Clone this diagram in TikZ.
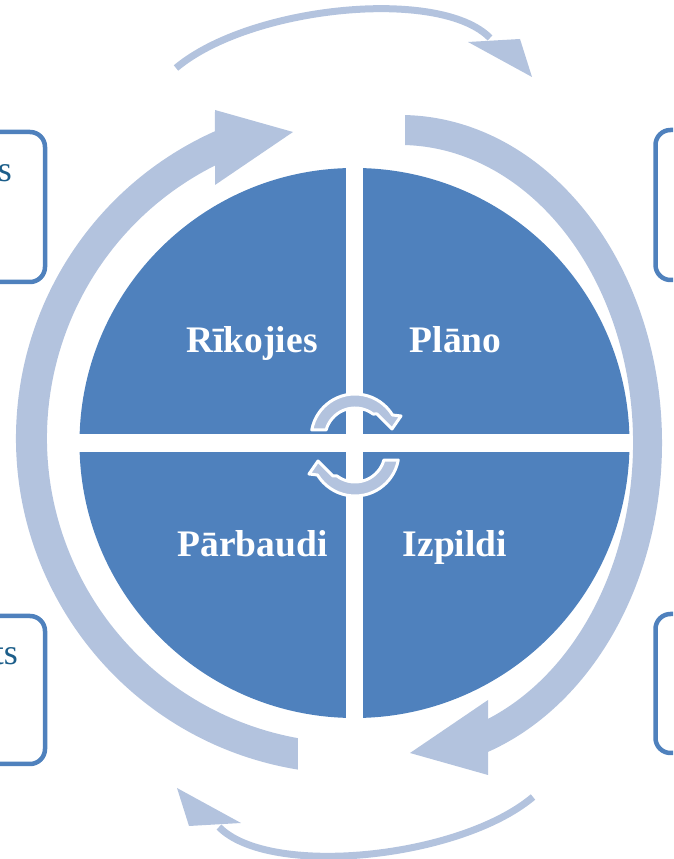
\documentclass[tikz,border=0pt]{standalone}
\usepackage{fontspec}
\setmainfont{Liberation Serif}
\usetikzlibrary{calc}
\definecolor{pieblue}{RGB}{79,129,189}
\definecolor{ringblue}{RGB}{179,195,222}
\definecolor{txtblue}{RGB}{28,94,138}
\begin{document}
\begin{tikzpicture}[x=1pt,y=1pt,
  sidebox/.style={draw=pieblue, line width=4.5, fill=white, rounded corners=15, inner sep=0},
  lbl/.style={text=white, font=\fontsize{37.5}{40}\selectfont\bfseries, inner sep=0, anchor=base},
  sidetxt/.style={text=txtblue, font=\fontsize{36}{40}\selectfont, inner sep=0, anchor=base east},
  ring/.style={fill=ringblue},
  minicirc/.style={fill=ringblue, draw=white, line width=3, line join=round}]
\useasboundingbox (0,0) rectangle (673,859);
\clip (0,0) rectangle (673,859);

% side boxes (cut by the page edge)
\node[sidebox, minimum width=85, minimum height=150] (boxTL) at (2.5,652) {};
\node[sidebox, minimum width=85, minimum height=148] (boxBL) at (2.5,169) {};
\node[sidebox, minimum width=65, minimum height=150] (boxTR) at (688,654) {};
\node[sidebox, minimum width=65, minimum height=139] (boxBR) at (688,175.5) {};
\node[sidetxt] (txtTL) at (12,677) {s};
\node[sidetxt] (txtBL) at (18,194) {ts};

% big ring arrows
\fill[ring] ($(352,421)+(260.75:336)$) arc[start angle=260.75, end angle=114.07, radius=336]
  -- (215,749) -- (293,727) -- (215,674)
  -- ($(352,421)+(116.69:305)$) arc[start angle=116.69, end angle=259.8, radius=305] -- cycle;
\fill[ring] (405,743.94) arc[start angle=88.91, end angle=-70.37, x radius=262, y radius=328]
  -- (488,84) -- (410,106) -- (488,159) -- (488,140.1)
  arc[start angle=-67.81, end angle=88.77, x radius=233, y radius=298] -- cycle;

% small curved arrows at top and bottom
\draw[ringblue, line width=7] (176,791) .. controls (250,853) and (440,872) .. (490,821);
\fill[ring] (468,817) -- (520,820) -- (532,782) -- cycle;
\begin{scope}[rotate around={180:(354.5,426.5)}]
\draw[ringblue, line width=7] (176,791) .. controls (250,853) and (440,872) .. (490,821);
\fill[ring] (468,817) -- (520,820) -- (532,782) -- cycle;
\end{scope}

% pie
\fill[pieblue] (354.5,416) circle (275);
\fill[white] (346,139) rectangle (363,693);
\fill[white] (78,407) rectangle (631,425);

% center circular arrows
\filldraw[minicirc] ($(355,421)+(169.5:44)$) arc[start angle=169.5, end angle=31.5, radius=44]
  -- (401,443) -- (392,430) -- (377,445)
  -- ($(355,421)+(53.1:30)$) arc[start angle=53.1, end angle=164.5, radius=30] -- cycle;
\begin{scope}[rotate around={180:(355,414)}]
\filldraw[minicirc] ($(355,421)+(169.5:44)$) arc[start angle=169.5, end angle=31.5, radius=44]
  -- (401,443) -- (392,430) -- (377,445)
  -- ($(355,421)+(53.1:30)$) arc[start angle=53.1, end angle=164.5, radius=30] -- cycle;
\end{scope}

% labels
\node[lbl] (act) at (252,506) {Rīkojies};
\node[lbl] (plan) at (455.5,506) {Plāno};
\node[lbl] (check) at (252.5,302) {Pārbaudi};
\node[lbl] (do) at (455,302) {Izpildi};
\end{tikzpicture}
\end{document}
